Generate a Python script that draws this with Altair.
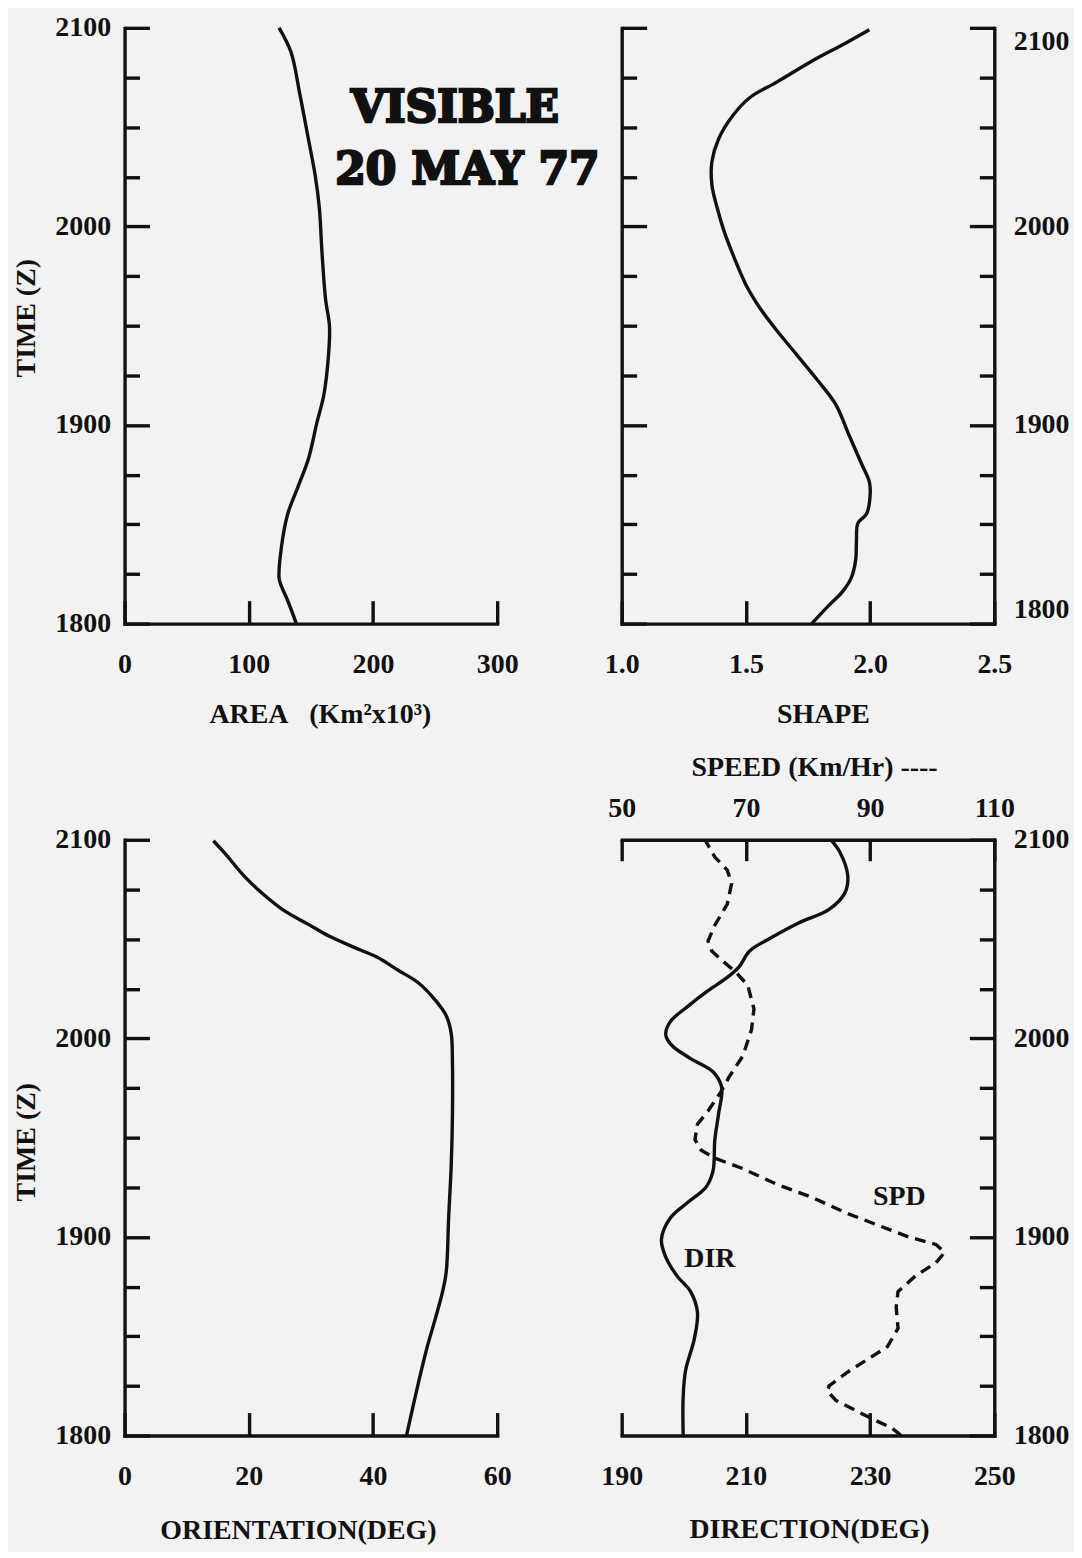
import altair as alt
import pandas as pd

FONT = "Liberation Serif"
INK = "#111111"
BG = "#f2f2f2"

# ---- tick values / labels -------------------------------------------------
TIME_TICKS = [18.0, 18.25, 18.5, 18.75, 19.0, 19.25, 19.5, 19.75,
              20.0, 20.25, 20.5, 20.75, 21.0]          # 1800Z .. 2100Z, every 15 min
AREA_TICKS = [0, 100, 200, 300]
SHAPE_TICKS = [1.0, 1.5, 2.0, 2.5]
ORIENT_TICKS = [0, 20, 40, 60]
DIR_TICKS = [190, 210, 230, 250]
SPD_TICKS = [50, 70, 90, 110]

# ---- series (time in decimal hours, Z) -----------------------------------
AREA_TIME = [21.0, 20.878, 20.67, 20.44, 20.256, 20.095, 19.865, 19.635, 19.496,
             19.335, 19.15, 19.013, 18.829, 18.69, 18.553, 18.39, 18.23, 18.196,
             18.115, 18.0]
AREA_VAL = [124.4, 134, 141, 148, 153.5, 156.8, 159, 161.8, 165,
            164, 160.4, 154.9, 148, 139.7, 131.4, 126.4, 124.4, 125.8,
            131.4, 138.3]

SHAPE_TIME = [20.99, 20.924, 20.832, 20.728, 20.648, 20.556, 20.44, 20.325, 20.21,
              20.095, 19.98, 19.842, 19.704, 19.588, 19.473, 19.347, 19.22, 19.105,
              18.944, 18.806, 18.714, 18.645, 18.553, 18.506, 18.414, 18.322, 18.23,
              18.161, 18.092, 18.0]
SHAPE_VAL = [1.997, 1.903, 1.765, 1.626, 1.515, 1.446, 1.39, 1.363, 1.363,
             1.384, 1.411, 1.453, 1.501, 1.557, 1.626, 1.709, 1.792, 1.861,
             1.917, 1.965, 1.997, 2.0, 1.986, 1.951, 1.945, 1.942, 1.924,
             1.889, 1.834, 1.765]

ORIENT_TIME = [20.995, 20.93, 20.816, 20.727, 20.643, 20.574, 20.515, 20.446, 20.408,
               20.344, 20.28, 20.19, 20.114, 20.025, 19.87, 19.616, 19.36, 19.106,
               18.825, 18.723, 18.595, 18.442, 18.263, 18.0]
ORIENT_VAL = [14.3, 16.2, 19.3, 22.3, 25.7, 29.6, 32.9, 37.9, 40.7,
              44.0, 47.3, 50.1, 51.8, 52.6, 52.8, 52.8, 52.6, 52.2,
              51.8, 51.2, 50.1, 48.7, 47.3, 45.4]

DIR_TIME = [21.0, 20.94, 20.82, 20.73, 20.65, 20.58, 20.504, 20.44, 20.36, 20.307,
            20.24, 20.16, 20.083, 20.017, 19.964, 19.898, 19.832, 19.753, 19.62,
            19.49, 19.331, 19.252, 19.173, 19.094, 18.988, 18.909, 18.804, 18.725,
            18.62, 18.488, 18.33, 18.198, 18.0]
DIR_VAL = [223.7, 225.1, 226.4, 225.9, 223.4, 218.4, 213.9, 210.6, 208.9, 207.0,
           203.9, 200.6, 197.8, 197.1, 198.1, 201.1, 204.7, 206.1, 205.6,
           205.0, 204.7, 203.6, 200.6, 197.8, 196.4, 196.96, 198.9, 201.1,
           202.2, 201.7, 200.3, 199.9, 199.9]

SPD_TIME = [21.0, 20.913, 20.847, 20.78, 20.676, 20.57, 20.49, 20.44, 20.386, 20.333,
            20.267, 20.148, 20.043, 19.911, 19.806, 19.727, 19.634, 19.568, 19.49,
            19.437, 19.397, 19.344, 19.265, 19.2, 19.12, 19.054, 19.0, 18.962, 18.922,
            18.87, 18.804, 18.725, 18.646, 18.54, 18.448, 18.382, 18.316, 18.25,
            18.224, 18.177, 18.132, 18.08, 18.04, 18.0]
SPD_VAL = [63.4, 65.0, 67.0, 67.7, 67.0, 65.0, 63.9, 64.5, 66.4, 68.4,
           70.3, 71.3, 70.9, 69.5, 67.3, 65.9, 63.9, 62.2, 61.8,
           62.8, 65.0, 69.5, 75.0, 80.6, 86.2, 91.7, 96.2, 100.6, 102.0,
           100.6, 97.3, 94.5, 94.2, 94.5, 92.8, 89.5, 86.2, 83.4,
           83.1, 84.5, 87.3, 90.6, 93.4, 95.0]

HEAD_TEXT = ["VISIBLE", "20 MAY 77"]
HEAD_X = [266, 276]
HEAD_T = [20.59, 20.28]

NOTE_TEXT = ["DIR", "SPD"]
NOTE_X = [204.2, 234.7]          # on the direction scale
NOTE_T = [18.887, 19.2]

W, H = 374, 598
LW = 3.4

TIME_LABEL = "datum.value % 1 === 0 ? format(datum.value * 100, 'd') : ''"
TIME_TICK_LEN = "datum.value % 1 === 0 ? -25 : -15"
TSCALE = alt.Scale(domain=[18, 21], nice=False, zero=False)


def time_axis(orient, show_labels, title=None, flush=False, title_y=H / 2):
    kw = dict(orient=orient, values=TIME_TICKS, tickSize=alt.ExprRef(TIME_TICK_LEN),
              labels=show_labels, grid=False, labelOverlap=False)
    if show_labels:
        kw.update(labelExpr=TIME_LABEL, labelPadding=39 if orient == "left" else 44,
                  labelFlush=flush)
    if title:
        kw.update(title=title, titleX=-98, titleY=title_y, titleAlign="center",
                  titleBaseline="middle", titleAngle=270)
    else:
        kw["title"] = None
    return alt.Axis(**kw)


def value_axis(orient, values, title, title_x, title_y, fmt=None, tick=23, pad=50):
    kw = dict(orient=orient, values=values, tickSize=alt.ExprRef(f"-{tick}"),
              labelPadding=pad, labelFlush=False, labelOverlap=False, grid=False,
              title=title, titleX=title_x, titleY=title_y, titleAlign="center",
              titleBaseline="middle")
    if fmt:
        kw["format"] = fmt
    return alt.Axis(**kw)


def line(df, field, domain, xaxis, yaxis, dash=None, interp="catmull-rom", opacity=1):
    mk = dict(color=INK, strokeWidth=LW, interpolate=interp, strokeOpacity=opacity)
    if dash:
        mk["strokeDash"] = dash
    return alt.Chart(df).mark_line(**mk).encode(
        x=alt.X(f"{field}:Q", scale=alt.Scale(domain=domain, nice=False, zero=False), axis=xaxis),
        y=alt.Y("t:Q", scale=TSCALE, axis=yaxis),
        order="t:Q",
    )


# ---- top-left: area --------------------------------------------------------
area_df = pd.DataFrame({"t": AREA_TIME, "v": AREA_VAL})
head_df = pd.DataFrame({"label": HEAD_TEXT, "v": HEAD_X, "t": HEAD_T})
tl_line = line(area_df, "v", [0, 300],
               value_axis("bottom", AREA_TICKS, "AREA\u00a0\u00a0 (Km²x10³)", 196, 91),
               time_axis("left", True, "TIME (Z)", title_y=291))
tl_text = alt.Chart(head_df).mark_text(font="DejaVu Serif", fontWeight="bold", fontSize=44,
                                       color=INK, stroke=INK, strokeWidth=2.6,
                                       baseline="middle", align="center").encode(
    x=alt.X("v:Q", scale=alt.Scale(domain=[0, 300], nice=False, zero=False), axis=None),
    y=alt.Y("t:Q", scale=TSCALE, axis=None),
    text="label:N",
)
tl = alt.layer(tl_line, tl_text).resolve_axis(
    x="independent", y="independent").properties(width=W, height=H)

# ---- top-right: shape ------------------------------------------------------
shape_df = pd.DataFrame({"t": SHAPE_TIME, "v": SHAPE_VAL})
tr_a = line(shape_df, "v", [1.0, 2.5],
            value_axis("bottom", SHAPE_TICKS, "SHAPE", 202, 91, fmt=".1f"),
            time_axis("left", False))
tr_b = line(shape_df, "v", [1.0, 2.5], None,
            time_axis("right", True, flush=True), opacity=0)
tr = alt.layer(tr_a, tr_b).resolve_axis(
    x="independent", y="independent").properties(width=W, height=H)

# ---- bottom-left: orientation ---------------------------------------------
orient_df = pd.DataFrame({"t": ORIENT_TIME, "v": ORIENT_VAL})
bl = line(orient_df, "v", [0, 60],
          value_axis("bottom", ORIENT_TICKS, "ORIENTATION(DEG)", 174, 95),
          time_axis("left", True, "TIME (Z)", title_y=303)).properties(width=W, height=H)

# ---- bottom-right: direction & speed --------------------------------------
dir_df = pd.DataFrame({"t": DIR_TIME, "v": DIR_VAL})
spd_df = pd.DataFrame({"t": SPD_TIME, "s": SPD_VAL})
note_df = pd.DataFrame({"label": NOTE_TEXT, "v": NOTE_X, "t": NOTE_T})
br_dir = line(dir_df, "v", [190, 250],
              value_axis("bottom", DIR_TICKS, "DIRECTION(DEG)", 188, 94),
              time_axis("right", True))
br_spd = line(spd_df, "s", [50, 110],
              value_axis("top", SPD_TICKS, "SPEED (Km/Hr) ----", 193, -73, tick=21, pad=38),
              None, dash=[11, 7], interp="linear")
br_text = alt.Chart(note_df).mark_text(font=FONT, fontWeight="bold", fontSize=28,
                                       color=INK, baseline="middle", align="center").encode(
    x=alt.X("v:Q", scale=alt.Scale(domain=[190, 250], nice=False, zero=False), axis=None),
    y=alt.Y("t:Q", scale=TSCALE, axis=None),
    text="label:N",
)
br = alt.layer(br_dir, br_spd, br_text).resolve_scale(x="independent").resolve_axis(
    x="independent", y="independent").properties(width=W, height=H)

chart = alt.concat(tl, tr, bl, br, columns=2, spacing={"row": 217, "column": 125},
                   bounds="flush").properties(
    padding={"left": 5, "top": 3, "right": 5, "bottom": 5}
).configure(background=BG).configure_view(stroke=None).configure_axis(
    domainColor=INK, domainWidth=LW, domainCap="square",
    tickColor=INK, tickWidth=LW,
    labelFont=FONT, labelFontSize=28, labelFontWeight="bold", labelColor=INK,
    titleFont=FONT, titleFontSize=28, titleFontWeight="bold", titleColor=INK,
    grid=False,
)

chart.save("out.html", embed_options={"renderer": "svg", "actions": False})
